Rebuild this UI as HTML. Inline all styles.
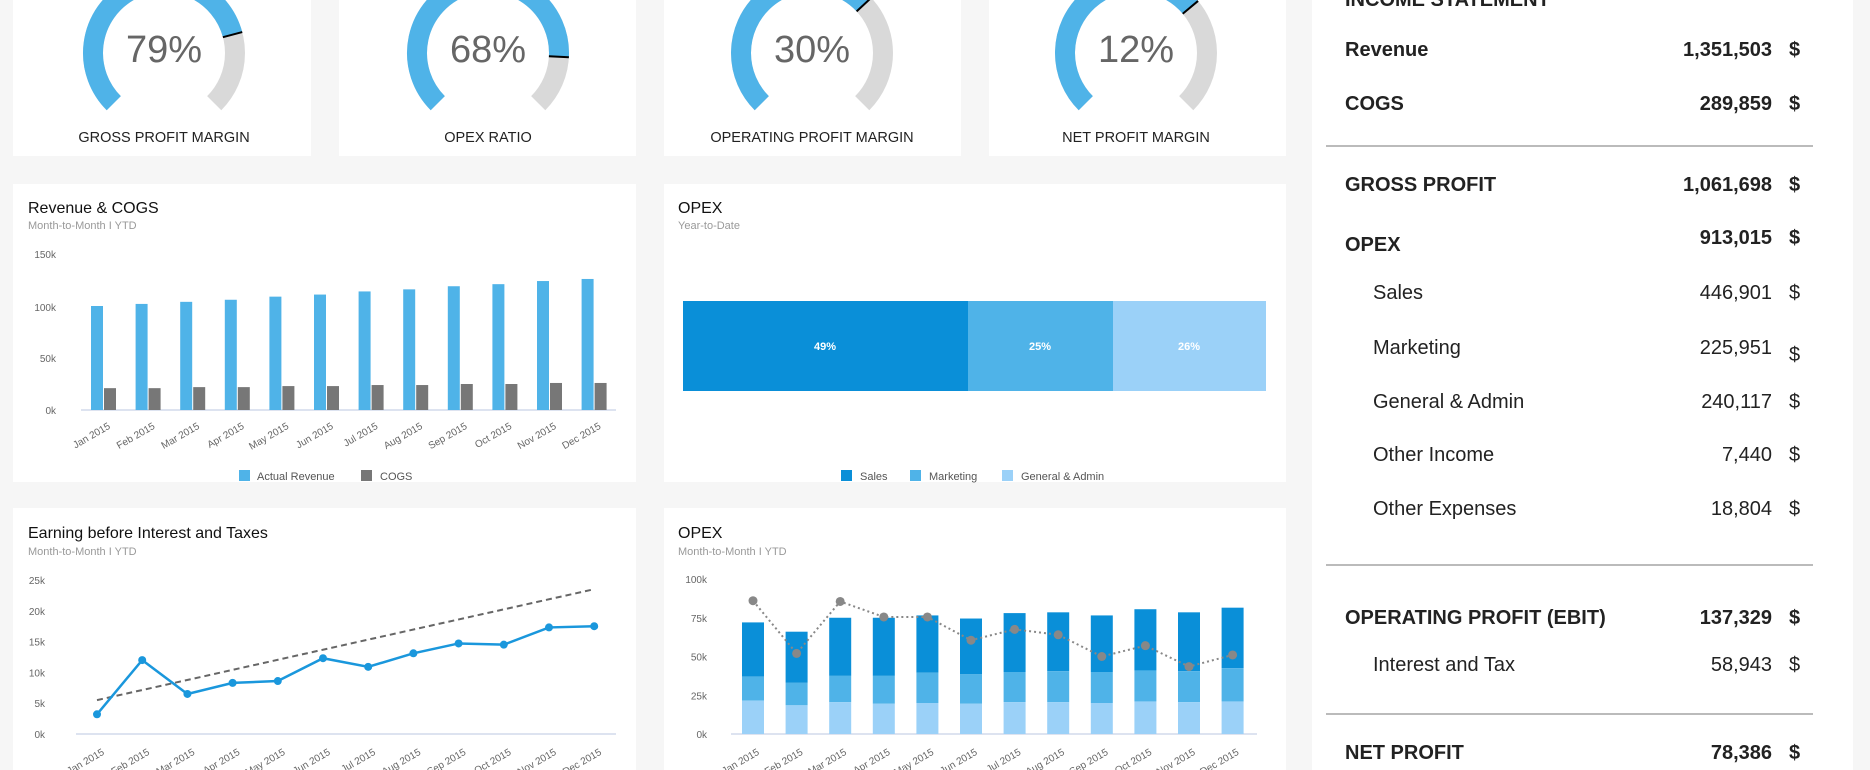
<!DOCTYPE html>
<html><head><meta charset="utf-8"><style>
html,body{margin:0;padding:0;background:#f6f6f6;}
svg{display:block;font-family:"Liberation Sans",sans-serif;}
</style></head><body>
<svg width="1870" height="770" viewBox="0 0 1870 770" xmlns="http://www.w3.org/2000/svg">
<rect width="1870" height="770" fill="#f6f6f6"/>
<g fill="#fff">
<rect x="13" y="0" width="298" height="156"/>
<rect x="339" y="0" width="297" height="156"/>
<rect x="664" y="0" width="297" height="156"/>
<rect x="989" y="0" width="297" height="156"/>
<rect x="13" y="184" width="623" height="298"/>
<rect x="664" y="184" width="622" height="298"/>
<rect x="13" y="508" width="623" height="262"/>
<rect x="664" y="508" width="622" height="262"/>
<rect x="1312" y="0" width="541" height="770"/>
</g>
<g id="gauges"></g>
<g font-size="38" fill="#666" text-anchor="middle">
<text x="164" y="62">79%</text><text x="488" y="62">68%</text><text x="812" y="62">30%</text><text x="1136" y="62">12%</text>
</g>
<g font-size="14.5" fill="#222" text-anchor="middle">
<text x="164" y="142">GROSS PROFIT MARGIN</text><text x="488" y="142">OPEX RATIO</text><text x="812" y="142">OPERATING PROFIT MARGIN</text><text x="1136" y="142">NET PROFIT MARGIN</text>
</g>
<g fill="#111" font-size="16"><text x="28" y="213">Revenue &amp; COGS</text><text x="678" y="213">OPEX</text><text x="28" y="538">Earning before Interest and Taxes</text><text x="678" y="538">OPEX</text></g>
<g fill="#999" font-size="11"><text x="28" y="229">Month-to-Month I YTD</text><text x="678" y="229">Year-to-Date</text><text x="28" y="555">Month-to-Month I YTD</text><text x="678" y="555">Month-to-Month I YTD</text></g>
<g id="c1"></g><g id="c3"></g><g id="c4"></g>
<rect x="683" y="301" width="285" height="90" fill="#0a8fd8"/>
<rect x="968" y="301" width="145" height="90" fill="#4fb3e8"/>
<rect x="1113" y="301" width="153" height="90" fill="#9bd1f8"/>
<g fill="#fff" font-size="11" font-weight="bold" text-anchor="middle"><text x="825" y="350">49%</text><text x="1040" y="350">25%</text><text x="1189" y="350">26%</text></g>
<g font-size="11" fill="#555">
<rect x="841" y="470" width="11" height="11" fill="#0a8fd8"/><text x="860" y="480">Sales</text>
<rect x="910" y="470" width="11" height="11" fill="#4fb3e8"/><text x="929" y="480">Marketing</text>
<rect x="1002" y="470" width="11" height="11" fill="#9bd1f8"/><text x="1021" y="480">General &amp; Admin</text>
<rect x="239" y="470" width="11" height="11" fill="#4fb3e8"/><text x="257" y="480">Actual Revenue</text>
<rect x="361" y="470" width="11" height="11" fill="#777"/><text x="380" y="480">COGS</text>
</g>
<g fill="#222" font-size="20">
<text x="1345" y="56" font-weight="bold">Revenue</text><text x="1772" y="56" text-anchor="end" font-weight="bold">1,351,503</text><text x="1789" y="56" font-weight="bold">$</text>
<text x="1345" y="110" font-weight="bold">COGS</text><text x="1772" y="110" text-anchor="end" font-weight="bold">289,859</text><text x="1789" y="110" font-weight="bold">$</text>
<text x="1345" y="191" font-weight="bold">GROSS PROFIT</text><text x="1772" y="191" text-anchor="end" font-weight="bold">1,061,698</text><text x="1789" y="191" font-weight="bold">$</text>
<text x="1345" y="251" font-weight="bold">OPEX</text><text x="1772" y="244" text-anchor="end" font-weight="bold">913,015</text><text x="1789" y="244" font-weight="bold">$</text>
<text x="1373" y="299">Sales</text><text x="1772" y="299" text-anchor="end">446,901</text><text x="1789" y="299">$</text>
<text x="1373" y="354">Marketing</text><text x="1772" y="354" text-anchor="end">225,951</text><text x="1789" y="361">$</text>
<text x="1373" y="408">General &amp; Admin</text><text x="1772" y="408" text-anchor="end">240,117</text><text x="1789" y="408">$</text>
<text x="1373" y="461">Other Income</text><text x="1772" y="461" text-anchor="end">7,440</text><text x="1789" y="461">$</text>
<text x="1373" y="515">Other Expenses</text><text x="1772" y="515" text-anchor="end">18,804</text><text x="1789" y="515">$</text>
<text x="1345" y="624" font-weight="bold">OPERATING PROFIT (EBIT)</text><text x="1772" y="624" text-anchor="end" font-weight="bold">137,329</text><text x="1789" y="624" font-weight="bold">$</text>
<text x="1373" y="671">Interest and Tax</text><text x="1772" y="671" text-anchor="end">58,943</text><text x="1789" y="671">$</text>
<text x="1345" y="759" font-weight="bold">NET PROFIT</text><text x="1772" y="759" text-anchor="end" font-weight="bold">78,386</text><text x="1789" y="759" font-weight="bold">$</text>
<text x="1345" y="6" font-weight="bold">INCOME STATEMENT</text>
</g>
<g stroke="#bbb" stroke-width="2"><line x1="1326" y1="146" x2="1813" y2="146"/><line x1="1326" y1="565" x2="1813" y2="565"/><line x1="1326" y1="714" x2="1813" y2="714"/></g>
</svg>
<script>
const NS="http://www.w3.org/2000/svg";
function el(p,t,a,txt){const e=document.createElementNS(NS,t);for(const k in a)e.setAttribute(k,a[k]);if(txt!==undefined)e.textContent=txt;document.getElementById(p).appendChild(e);return e;}
function pt(cx,cy,r,a){const t=a*Math.PI/180;return [cx+r*Math.sin(t),cy-r*Math.cos(t)];}
function arc(cx,cy,r,a0,a1){const p0=pt(cx,cy,r,a0),p1=pt(cx,cy,r,a1);const l=(a1-a0)>180?1:0;return `M${p0[0]} ${p0[1]} A${r} ${r} 0 ${l} 1 ${p1[0]} ${p1[1]}`;}
[[164,75],[488,93],[812,47],[1136,50]].forEach(([cx,a])=>{const cy=53,r=71;
el('gauges','path',{d:arc(cx,cy,r,-135,135),stroke:'#d9d9d9','stroke-width':20,fill:'none'});
el('gauges','path',{d:arc(cx,cy,r,-135,a),stroke:'#4fb3e8','stroke-width':20,fill:'none'});
const p=pt(cx,cy,r-10,a),q=pt(cx,cy,r+10,a);el('gauges','line',{x1:p[0],y1:p[1],x2:q[0],y2:q[1],stroke:'#000','stroke-width':2});});
const M=['Jan','Feb','Mar','Apr','May','Jun','Jul','Aug','Sep','Oct','Nov','Dec'];
function xl(g,x,y,i){el(g,'text',{x:x,y:y,'font-size':10,fill:'#666','text-anchor':'end',transform:`rotate(-30 ${x} ${y})`},M[i]+' 2015');}
[[150,254],[100,307],[50,358],[0,410]].forEach(([v,y])=>el('c1','text',{x:56,y:y+4,'font-size':10,fill:'#666','text-anchor':'end'},v+'k'));
el('c1','line',{x1:81,y1:410,x2:616,y2:410,stroke:'#dde3f0','stroke-width':2});
const rev=[100,102,104,106,109,111,114,116,119,121,124,126],cg=[21,21,22,22,23,23,24,24,25,25,26,26];
const s1=156/150;
rev.forEach((v,i)=>{const x=91+i*44.6;el('c1','rect',{x:x,y:410-v*s1,width:12,height:v*s1,fill:'#4fb3e8'});
el('c1','rect',{x:x+13,y:410-cg[i]*s1,width:12,height:cg[i]*s1,fill:'#777'});xl('c1',x+20,428,i);});
[25,20,15,10,5,0].forEach(v=>el('c3','text',{x:45,y:734-v*6.16+4,'font-size':10,fill:'#666','text-anchor':'end'},v+'k'));
el('c3','line',{x1:76,y1:734,x2:616,y2:734,stroke:'#dde3f0','stroke-width':2});
el('c3','line',{x1:97,y1:734-5.5*6.16,x2:594,y2:734-23.5*6.16,stroke:'#666','stroke-width':2,'stroke-dasharray':'6 4'});
const eb=[3.2,12,6.5,8.3,8.6,12.3,10.9,13.1,14.7,14.5,17.3,17.5];
el('c3','polyline',{points:eb.map((v,i)=>`${97+i*45.2},${734-v*6.16}`).join(' '),fill:'none',stroke:'#1a97dc','stroke-width':2.5});
eb.forEach((v,i)=>{el('c3','circle',{cx:97+i*45.2,cy:734-v*6.16,r:4,fill:'#1a97dc'});xl('c3',97+i*45.2+8,754,i);});
const s4=155/100;
[100,75,50,25,0].forEach(v=>el('c4','text',{x:707,y:734-v*s4+4,'font-size':10,fill:'#666','text-anchor':'end'},v+'k'));
el('c4','line',{x1:731,y1:734,x2:1257,y2:734,stroke:'#dde3f0','stroke-width':2});
const tot=[72,66,75,75,76.5,74.5,78,78.5,76.5,80.5,78.5,81.5],mk=[37,33,37.5,37.5,39.5,38.5,40,40.5,40,41,40.5,42.5],ga=[21.5,18.5,20.5,19.5,20,19.5,20.5,20.5,20,21,20.5,21];
const dl=[86,52,85.5,75.5,75.5,60.5,67.5,64,50,57,43.5,51];
tot.forEach((t,i)=>{const x=742+i*43.6;
el('c4','rect',{x:x,y:734-t*s4,width:22,height:(t-mk[i])*s4,fill:'#0a8fd8'});
el('c4','rect',{x:x,y:734-mk[i]*s4,width:22,height:(mk[i]-ga[i])*s4,fill:'#4fb3e8'});
el('c4','rect',{x:x,y:734-ga[i]*s4,width:22,height:ga[i]*s4,fill:'#9bd1f8'});xl('c4',x+18,754,i);});
el('c4','polyline',{points:dl.map((v,i)=>`${753+i*43.6},${734-v*s4}`).join(' '),fill:'none',stroke:'#888','stroke-width':2,'stroke-dasharray':'2 3'});
dl.forEach((v,i)=>el('c4','circle',{cx:753+i*43.6,cy:734-v*s4,r:4.5,fill:'#888'}));
</script>
</body></html>
